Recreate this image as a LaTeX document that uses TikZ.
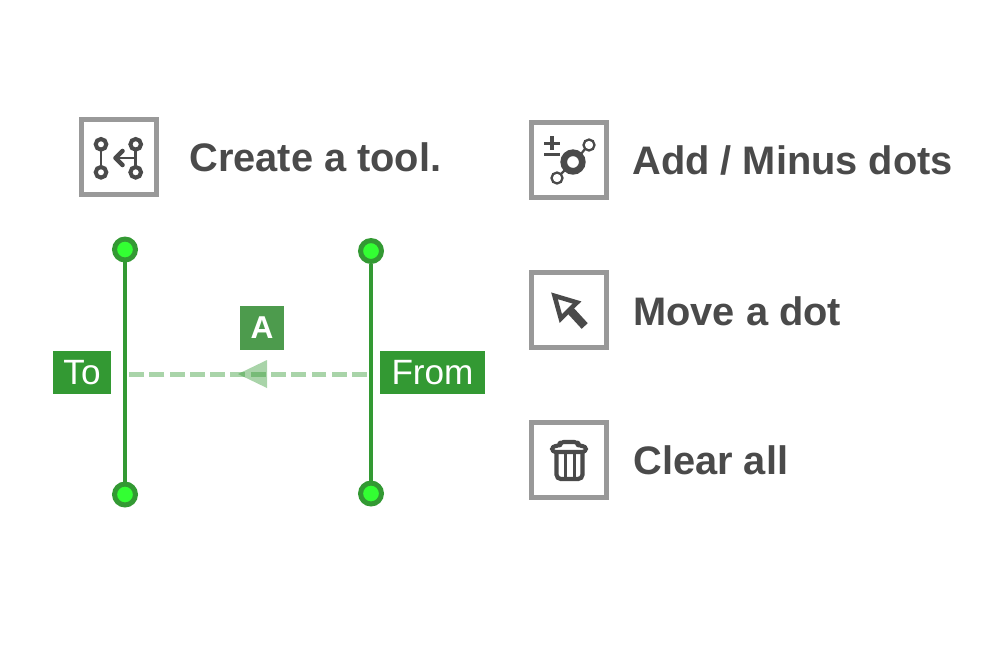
\documentclass[tikz,border=0pt]{standalone}
\usepackage{fontspec}
\setmainfont{Liberation Sans}
\definecolor{inkgray}{HTML}{4A4A4A}
\definecolor{boxgray}{HTML}{999999}
\definecolor{toolgreen}{HTML}{339933}
\definecolor{labelgreen}{HTML}{4D9B4D}
\definecolor{dotgreen}{HTML}{33FF33}
\tikzset{
	iconbox/.style={draw=boxgray,line width=2.85pt,minimum size=42.7pt,inner sep=0pt},
	caption/.style={anchor=west,inner sep=0pt,text=inkgray,font=\fontsize{22.65}{26}\selectfont\bfseries},
	enddot/.style={circle,draw=toolgreen,fill=dotgreen,line width=2.85pt,minimum size=11.9pt,inner sep=0pt},
	rail/.style={draw=toolgreen,line width=2.7pt},
	tag/.style={fill=toolgreen,text=white,inner sep=0pt,minimum height=24.5pt,font=\fontsize{20}{24}\selectfont},
	glyph/.style={draw=inkgray,line width=2.3pt}
}
\begin{document}
\begin{tikzpicture}[x=0.02cm,y=-0.02cm]
	\useasboundingbox (0,0) rectangle (1000,650);
	% buttons
	\node[iconbox] (create) at (119,157){};
	\node[iconbox] (add) at (569,160){};
	\node[iconbox] (move) at (569,310){};
	\node[iconbox] (clear) at (569,460){};
	\node[caption] (createtext) at (189,157){Create a tool.};
	\node[caption] (addtext) at (632,160){Add / Minus dots};
	\node[caption] (movetext) at (633,311){Move a dot};
	\node[caption] (cleartext) at (633,460){Clear all};
	% create icon
	\draw[glyph] (101,144.3) circle(5.3) (101,172.3) circle(5.3) (135.7,144.3) circle(5.3) (135.7,172.3) circle(5.3);
	\draw[glyph,line width=1.5pt] (101,149.5)--(101,167) (135.7,149.5)--(135.7,167);
	\draw[glyph,line width=1.1pt] (135.7,158)--(118,158);
	\draw[glyph,line width=2.6pt,line cap=round,line join=round] (122.5,151)--(115.5,158)--(122.5,165);
	% add icon
	\draw[glyph,line width=3.8pt] (573,162) circle(9.3);
	\draw[glyph,line width=1.3pt] (589,145) circle(5.5) (557,178) circle(5.5);
	\draw[glyph,line width=1.3pt] (581,154)--(585,149) (565,170)--(561,174);
	\draw[glyph,line width=2pt] (544,143.3)--(560,143.3) (552,136)--(552,150);
	\draw[glyph,line width=2pt] (544,154.3)--(560,154.3);
	% move icon
	\draw[glyph,line width=2.6pt,line join=miter] (554.5,295.8)--(577,302.5)--(560.8,318.5)--cycle;
	\draw[glyph,line width=4.7pt] (570,310)--(584.7,326);
	% clear icon
	\draw[glyph,line width=2.3pt,line join=round,rounded corners=2pt] (552,452)--(552,446)--(560,446)--(560,442)--(578,442)--(578,446)--(586,446)--(586,452)--cycle;
	\draw[glyph,line width=2.4pt,rounded corners=2.5pt] (556.5,452)--(556.5,479)--(582.5,479)--(582.5,452);
	\draw[glyph,line width=1.7pt] (565,453)--(565,478) (574,453)--(574,478);
	% tool
	\node[enddot] (totop) at (125,249.5){};
	\node[enddot] (tobottom) at (125,494.5){};
	\node[enddot] (fromtop) at (371,251){};
	\node[enddot] (frombottom) at (371,493.5){};
	\draw[rail] (totop)--(tobottom);
	\draw[rail] (fromtop)--(frombottom);
	\coordinate (dashstart) at (367,374);
	\coordinate (dashend) at (129,374);
	\draw[toolgreen!42,line width=2.85pt,dash pattern=on 8.53pt off 3pt] (dashstart)--(dashend);
	\fill[toolgreen,opacity=.42] (238,374)--(267,360)--(267,388)--cycle;
	\node[tag,minimum width=33pt] (tolabel) at (82,372.5){To};
	\node[tag,minimum width=59.7pt] (fromlabel) at (432.5,372.5){From};
	\node[fill=labelgreen,text=white,inner sep=0pt,minimum size=25pt,font=\fontsize{18}{22}\selectfont\bfseries] (alabel) at (262,328){A};
\end{tikzpicture}
\end{document}
